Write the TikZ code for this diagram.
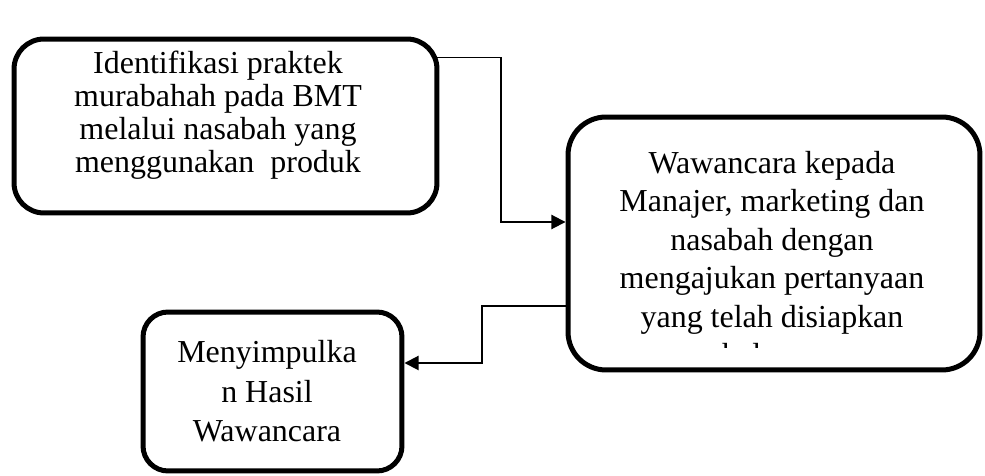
\documentclass[tikz,border=0pt]{standalone}
\usepackage{fontspec}
\setmainfont{Liberation Serif}
\usepackage{tikz}
\usetikzlibrary{arrows.meta,calc}

\begin{document}
\begin{tikzpicture}[x=0.02cm,y=-0.02cm,
      kotak/.style={draw=black,line width=2.85pt,inner sep=0pt},
      teks/.style={align=center,inner sep=0pt},
      panah/.style={draw=black,line width=1.1pt,-{Triangle[length=8pt,width=8pt]}}]
\useasboundingbox (0,0) rectangle (985,476);
% kotak-kotak
\node[kotak,rounded corners=0.6cm,minimum width=8.46cm,minimum height=3.48cm] (ident) at (225.5,126) {};
\node[kotak,rounded corners=0.76cm,minimum width=8.24cm,minimum height=5.06cm] (wawancara) at (774,243.5) {};
\node[kotak,rounded corners=0.5cm,minimum width=5.18cm,minimum height=3.18cm] (simpul) at (272.5,391.5) {};
% teks
\node[teks,font=\fontsize{18.2}{18.8}\selectfont] (identtxt) at (218,115.5)
      {Identifikasi praktek\\murabahah pada BMT\\melalui nasabah yang\\menggunakan~~produk};
\begin{scope}
\clip (570,119) rectangle (978,347.5);
\node[teks,font=\fontsize{18.2}{21.9}\selectfont] (wawancaratxt) at (772,262)
      {Wawancara kepada\\Manajer, marketing dan\\nasabah dengan\\mengajukan pertanyaan\\yang telah disiapkan\\sebelumnya};
\end{scope}
\node[teks,font=\fontsize{18.2}{22.4}\selectfont] (simpultxt) at (267,391.5)
      {Menyimpulka\\n Hasil\\Wawancara};
% panah
\draw[panah] ($(ident.north east)+(-4,21)$) -- ++(66,0) |- ($(wawancara.west)+(0,-21.5)$);
\draw[panah] ($(wawancara.west)+(0,62.5)$) -- ++(-84,0) |- ($(simpul.east)+(0,-28.5)$);
\end{tikzpicture}
\end{document}
